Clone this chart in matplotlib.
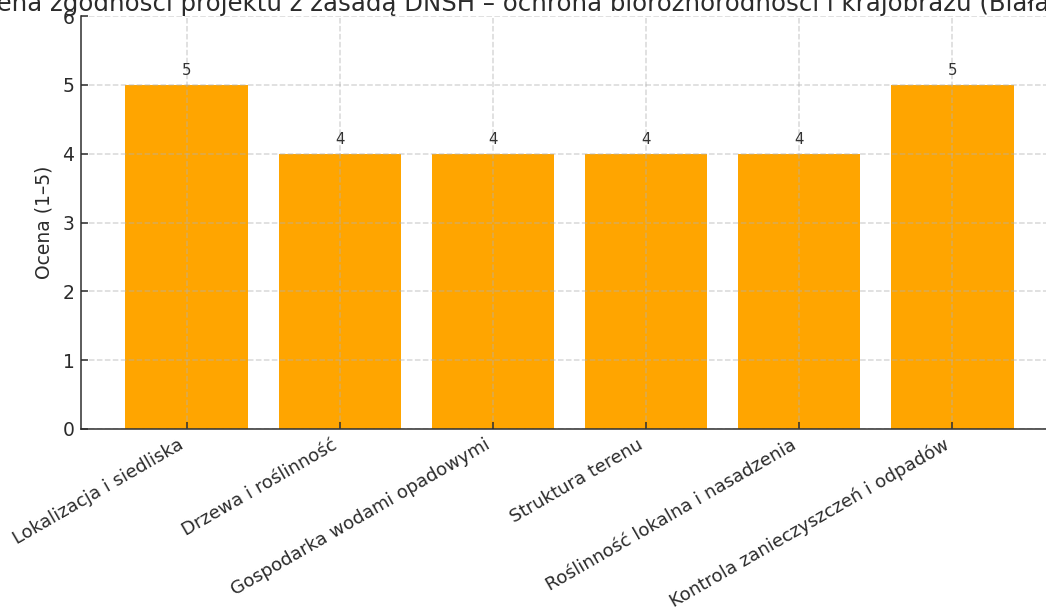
import matplotlib
matplotlib.use("Agg")
import matplotlib.pyplot as plt

# Data
categories = [
    "Lokalizacja i siedliska",
    "Drzewa i roślinność",
    "Gospodarka wodami opadowymi",
    "Struktura terenu",
    "Roślinność lokalna i nasadzenia",
    "Kontrola zanieczyszczeń i odpadów",
]
scores = [5, 4, 4, 4, 4, 5]

title = "Ocena zgodności projektu z zasadą DNSH – ochrona bioróżnorodności i krajobrazu (Biała Podlaska)"

dark = "#2b2b2b"
plt.rcParams.update({
    "text.color": dark,
    "axes.labelcolor": dark,
    "axes.edgecolor": dark,
    "xtick.color": dark,
    "ytick.color": dark,
    "xtick.direction": "in",
    "ytick.direction": "in",
})

dpi = 135
fig = plt.figure(figsize=(1046 / dpi, 608 / dpi), dpi=dpi)
# the reference is a crop, so the axes run past the right edge
ax = fig.add_axes([81 / 1046, 179 / 608, 977 / 1046, 413 / 608])

ax.bar(categories, scores, color="orange")
for i, v in enumerate(scores):
    ax.text(i, v + 0.1, str(v), ha="center", va="bottom", fontsize=8, color="#333333")

ax.set_ylim(0, 6)
ax.set_ylabel("Ocena (1–5)", labelpad=5)
ax.set_title(title, fontsize=13, pad=1.5)
ax.grid(True, linestyle="--", alpha=0.5)
ax.spines["top"].set_visible(False)
plt.setp(ax.get_xticklabels(), rotation=30, ha="right", fontsize=9.7)

fig.savefig("out.png", dpi=dpi)
